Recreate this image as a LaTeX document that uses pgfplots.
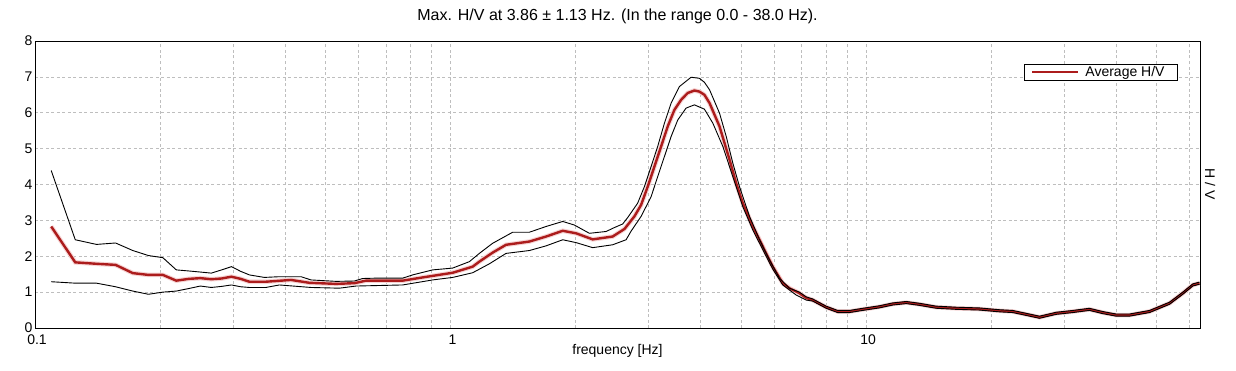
\documentclass[border=0pt]{standalone}
\usepackage{fontspec}
\setmainfont{Liberation Sans}
\usepackage{pgfplots}
\pgfplotsset{compat=1.18}
\usepackage{pgfplotstable}
\definecolor{hvred}{RGB}{172,28,28}
\definecolor{hvhalo}{RGB}{246,212,212}
\definecolor{gridgray}{RGB}{190,190,190}

\pgfplotstableread{
f y
0.1094 2.83
0.125 1.83
0.1406 1.79
0.1563 1.76
0.1719 1.53
0.1875 1.48
0.2031 1.48
0.2188 1.32
0.2344 1.37
0.25 1.39
0.2656 1.36
0.2813 1.38
0.2969 1.43
0.3125 1.37
0.3281 1.29
0.3594 1.29
0.3802 1.31
0.4132 1.34
0.4573 1.26
0.5303 1.23
0.5869 1.25
0.6261 1.32
0.7670 1.32
0.8568 1.41
1.0116 1.54
1.130 1.71
1.173 1.85
1.262 2.10
1.360 2.32
1.548 2.41
1.698 2.55
1.862 2.71
2.005 2.64
2.198 2.47
2.455 2.55
2.621 2.76
2.769 3.11
2.874 3.43
2.981 3.94
3.094 4.50
3.211 5.06
3.331 5.62
3.457 6.08
3.588 6.36
3.721 6.55
3.862 6.62
3.970 6.59
4.082 6.50
4.200 6.27
4.438 5.62
4.692 4.69
4.866 4.04
5.050 3.48
5.338 2.83
5.642 2.27
5.961 1.71
6.301 1.25
6.538 1.11
6.910 0.97
7.171 0.84
7.438 0.78
8.012 0.58
8.542 0.46
9.117 0.46
9.813 0.52
10.76 0.59
11.59 0.67
12.49 0.71
13.44 0.66
14.74 0.58
16.47 0.55
18.74 0.53
20.94 0.48
22.53 0.46
24.28 0.38
26.13 0.30
28.67 0.41
31.43 0.46
34.46 0.52
37.10 0.43
39.97 0.36
43.02 0.36
48.07 0.46
53.70 0.69
57.81 0.97
61.11 1.20
63.42 1.25
}\meantab

\pgfplotstableread{
f y
0.1094 4.39
0.125 2.46
0.1406 2.33
0.1563 2.37
0.1719 2.16
0.1875 2.02
0.2031 1.96
0.2188 1.62
0.2344 1.59
0.25 1.56
0.2656 1.53
0.2813 1.62
0.2969 1.71
0.3125 1.58
0.3281 1.48
0.3563 1.41
0.3873 1.43
0.4367 1.43
0.4616 1.34
0.5303 1.30
0.5869 1.31
0.6144 1.38
0.6617 1.39
0.7670 1.39
0.8107 1.48
0.9055 1.62
1.0116 1.67
1.110 1.85
1.173 2.08
1.262 2.36
1.411 2.67
1.548 2.67
1.698 2.83
1.862 2.97
1.986 2.87
2.158 2.64
2.367 2.69
2.479 2.80
2.596 2.90
2.669 3.08
2.820 3.48
2.927 3.94
3.038 4.50
3.151 5.06
3.271 5.71
3.395 6.27
3.554 6.73
3.792 6.99
3.970 6.96
4.082 6.85
4.200 6.64
4.438 5.99
4.606 5.34
4.777 4.60
4.958 3.94
5.241 3.11
5.540 2.46
5.853 1.90
6.186 1.39
6.538 1.11
6.910 1.00
7.171 0.87
7.438 0.81
8.012 0.61
8.542 0.49
9.117 0.49
9.813 0.55
10.76 0.62
11.59 0.70
12.49 0.74
13.44 0.69
14.74 0.61
16.47 0.58
18.74 0.56
20.94 0.51
22.53 0.49
24.28 0.41
26.13 0.33
28.67 0.44
31.43 0.49
34.46 0.55
37.10 0.46
39.97 0.39
43.02 0.39
48.07 0.49
53.70 0.72
57.81 1.00
61.11 1.23
63.42 1.28
}\uppertab

\pgfplotstableread{
f y
0.1094 1.29
0.125 1.25
0.1406 1.25
0.1563 1.15
0.1719 1.03
0.1875 0.94
0.2031 1.00
0.2188 1.03
0.2344 1.10
0.25 1.17
0.2656 1.13
0.2813 1.16
0.2969 1.20
0.3125 1.15
0.3281 1.13
0.3594 1.13
0.3873 1.20
0.4616 1.13
0.5401 1.11
0.5925 1.17
0.7670 1.20
0.9055 1.34
1.0116 1.41
1.130 1.54
1.173 1.64
1.240 1.79
1.360 2.08
1.548 2.16
1.698 2.29
1.862 2.46
2.005 2.38
2.198 2.24
2.455 2.32
2.645 2.46
2.719 2.70
2.874 3.11
3.038 3.66
3.151 4.22
3.271 4.78
3.395 5.34
3.522 5.80
3.688 6.13
3.862 6.22
4.082 6.10
4.277 5.71
4.521 5.06
4.777 4.22
5.050 3.38
5.338 2.73
5.642 2.18
5.961 1.64
6.301 1.20
6.785 0.92
7.171 0.78
7.438 0.75
8.012 0.55
8.542 0.43
9.117 0.43
9.813 0.49
10.76 0.56
11.59 0.64
12.49 0.68
13.44 0.63
14.74 0.55
16.47 0.52
18.74 0.50
20.94 0.45
22.53 0.43
24.28 0.35
26.13 0.27
28.67 0.38
31.43 0.43
34.46 0.49
37.10 0.40
39.97 0.33
43.02 0.33
48.07 0.43
53.70 0.66
57.81 0.94
61.11 1.17
63.42 1.22
}\lowertab

\begin{document}
\begin{tikzpicture}
\begin{axis}[
  name=ax,
  xmode=log,
  scale only axis,
  width=1165bp, height=287bp,
  xmin=0.1, xmax=63.6, ymin=0, ymax=8,
  xtick={0.1,1,10}, xticklabels={0.1,1,10},
  minor xtick={0.2,0.3,0.4,0.5,0.6,0.7,0.8,0.9,2,3,4,5,6,7,8,9,20,30,40,50,60},
  ytick={0,1,2,3,4,5,6,7,8},
  grid=both,
  major grid style={gridgray, line width=0.7bp, dash pattern=on 3bp off 2.5bp},
  minor grid style={gridgray, line width=0.7bp, dash pattern=on 3bp off 2.5bp},
  tick style={draw=none},
  axis line style={line width=0.9bp},
  font=\fontsize{14bp}{16bp}\selectfont,
  tick label style={font=\fontsize{14bp}{16bp}\selectfont},
  /pgf/number format/assume math mode=true,
  yticklabel style={inner xsep=2.5bp, inner ysep=0bp},
  xticklabel style={inner ysep=0bp, yshift=-6.5bp, xshift=2bp},
  title={Max. H/V at 3.86 ± 1.13 Hz. (In the range 0.0 - 38.0 Hz).},
  title style={at={(0.5,1)}, anchor=base, yshift=15bp, font=\fontsize{16bp}{18bp}\selectfont},
  xlabel={frequency [Hz]},
  xlabel style={at={(0.5,0)}, anchor=base, yshift=-26bp, font=\fontsize{14bp}{16bp}\selectfont},
  legend style={at={(0.9811,0.9199)}, anchor=north east, draw=black, line width=0.8bp,
    inner xsep=7bp, inner ysep=0.5bp, font=\fontsize{14bp}{16bp}\selectfont,
    nodes={inner xsep=6bp, inner ysep=1.5bp}},
  legend cell align=left,
  legend image code/.code={\draw[#1] (0bp,0bp) -- (46bp,0bp);},
  clip=false,
]
\addplot[hvhalo, line width=4.6bp, forget plot] table[x=f,y=y] {\meantab};
\addplot[hvred, line width=2.4bp] table[x=f,y=y] {\meantab};
\addlegendentry{Average H/V}
\addplot[black, line width=0.9bp, forget plot] table[x=f,y=y] {\uppertab};
\addplot[black, line width=0.9bp, forget plot] table[x=f,y=y] {\lowertab};
\end{axis}
\node[rotate=-90, font=\fontsize{14bp}{16bp}\selectfont] at ([xshift=10bp]ax.east) {H / V};
\pgfresetboundingbox
\path ([shift={(-35bp,-42bp)}]ax.south west) rectangle ([shift={(36bp,41bp)}]ax.north east);
\end{tikzpicture}
\end{document}
